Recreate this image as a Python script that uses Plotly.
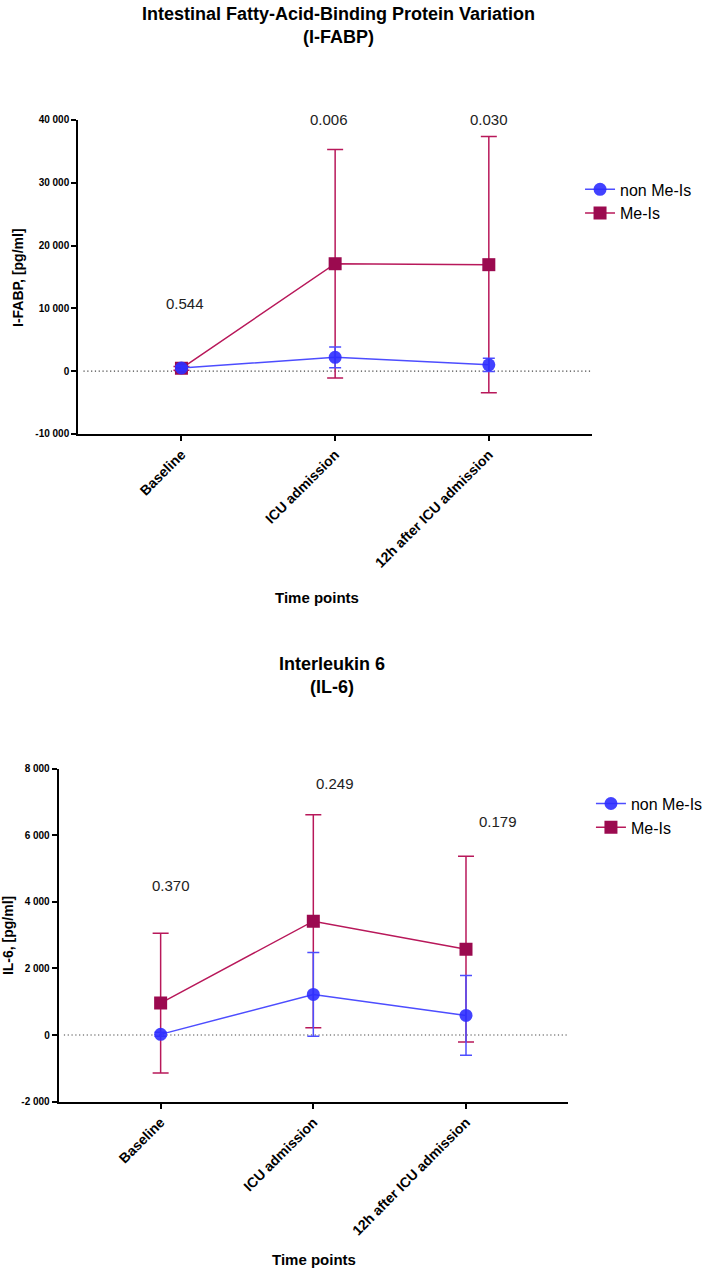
import plotly.graph_objects as go

# ---------------- data ----------------
timepoints = ["Baseline", "ICU admission", "12h after ICU admission"]
groups = ["non Me-Is", "Me-Is"]

ifabp_non_mean = [500, 2200, 1000]
ifabp_non_sd = [300, 1650, 1050]
ifabp_me_mean = [450, 17100, 16950]
ifabp_me_sd = [300, 18200, 20400]

il6_non_mean = [20, 1220, 590]
il6_non_sd = [60, 1260, 1200]
il6_me_mean = [960, 3420, 2580]
il6_me_sd = [2100, 3200, 2790]

ifabp_pvalues = ["0.544", "0.006", "0.030"]
ifabp_p_label_y = [10800, 40000, 40000]
il6_pvalues = ["0.370", "0.249", "0.179"]
il6_p_label_y = [4500, 7560, 6420]

ifabp_ticks = [-10000, 0, 10000, 20000, 30000, 40000]
ifabp_ticktext = ["-10 000", "0", "10 000", "20 000", "30 000", "40 000"]
il6_ticks = [-2000, 0, 2000, 4000, 6000, 8000]
il6_ticktext = ["-2 000", "0", "2 000", "4 000", "6 000", "8 000"]

# ---------------- style ----------------
FONT = "Liberation Sans, Arial, Helvetica, sans-serif"
BLUE_M = "rgba(45,45,255,0.9)"
BLUE_L = "#4d4dff"
RED_M = "#9b0a4f"
RED_L = "#b8185a"
W, H = 708, 1275

fig = go.Figure()


def add_panel(xa, ya, legend, me_mean, me_sd, non_mean, non_sd):
    fig.add_trace(go.Scatter(
        x=timepoints, y=me_mean, name=groups[1], mode="lines+markers",
        xaxis=xa, yaxis=ya, legend=legend,
        marker=dict(symbol="square", size=13, color=RED_M),
        line=dict(color=RED_L, width=1.5),
        error_y=dict(type="data", array=me_sd, visible=True,
                     color=RED_L, thickness=1.5, width=8),
    ))
    fig.add_trace(go.Scatter(
        x=timepoints, y=non_mean, name=groups[0], mode="lines+markers",
        xaxis=xa, yaxis=ya, legend=legend,
        marker=dict(symbol="circle", size=13, color=BLUE_M),
        line=dict(color=BLUE_L, width=1.5),
        error_y=dict(type="data", array=non_sd, visible=True,
                     color=BLUE_L, thickness=1.5, width=6),
    ))


add_panel("x", "y", "legend", ifabp_me_mean, ifabp_me_sd, ifabp_non_mean, ifabp_non_sd)
add_panel("x2", "y2", "legend2", il6_me_mean, il6_me_sd, il6_non_mean, il6_non_sd)


def px_x(p):
    return p / W


def px_y(p):
    return 1 - p / H


axis_common = dict(showline=True, linecolor="black", linewidth=2.2,
                   ticks="outside", ticklen=5, tickwidth=2, tickcolor="black",
                   showgrid=False, zeroline=False)

fig.update_layout(
    width=W, height=H,
    margin=dict(l=0, r=0, t=0, b=0),
    paper_bgcolor="white", plot_bgcolor="white",
    font=dict(family=FONT, color="black"),
    xaxis=dict(domain=[px_x(79), px_x(597)], anchor="y", type="category",
               range=[-0.671, 2.671], tickangle=-45,
               tickfont=dict(size=14, family=FONT, weight="bold"), **axis_common),
    yaxis=dict(domain=[px_y(432), px_y(115)], anchor="x", range=[-10000, 40000],
               tickvals=ifabp_ticks, ticktext=ifabp_ticktext,
               tickfont=dict(size=10, family=FONT, weight="bold"), **axis_common),
    xaxis2=dict(domain=[px_x(59.3), px_x(573)], anchor="y2", type="category",
                range=[-0.667, 2.669], tickangle=-45,
                tickfont=dict(size=14, family=FONT, weight="bold"), **axis_common),
    yaxis2=dict(domain=[px_y(1106), px_y(770)], anchor="x2", range=[-2000, 8000],
                tickvals=il6_ticks, ticktext=il6_ticktext,
                tickfont=dict(size=10, family=FONT, weight="bold"), **axis_common),
    legend=dict(x=px_x(585), y=px_y(168), xanchor="left", yanchor="top",
                traceorder="reversed", font=dict(size=16, family=FONT),
                bgcolor="rgba(0,0,0,0)", itemwidth=30),
    legend2=dict(x=px_x(596), y=px_y(788), xanchor="left", yanchor="top",
                 traceorder="reversed", font=dict(size=16, family=FONT),
                 bgcolor="rgba(0,0,0,0)", itemwidth=30),
    showlegend=True,
)

# dotted zero lines
for xr, yr in (("x domain", "y"), ("x2 domain", "y2")):
    fig.add_shape(type="line", xref=xr, yref=yr, x0=0.01, x1=1, y0=0, y1=0,
                  line=dict(color="#444444", width=1.2, dash="1.2px,2.6px"), layer="below")

annotations = []
# p-values
for cat, txt, yv, xs in zip(timepoints, ifabp_pvalues, ifabp_p_label_y, [4, -6, 0]):
    annotations.append(dict(x=cat, y=yv, xref="x", yref="y", text=txt, showarrow=False,
                            xshift=xs, yanchor="middle",
                            font=dict(size=15, family=FONT, color="#222222")))
for cat, txt, yv, xs in zip(timepoints, il6_pvalues, il6_p_label_y, [10, 22, 32]):
    annotations.append(dict(x=cat, y=yv, xref="x2", yref="y2", text=txt, showarrow=False,
                            xshift=xs, yanchor="middle",
                            font=dict(size=15, family=FONT, color="#222222")))

# titles
bold = dict(family=FONT, weight="bold", color="black")
annotations += [
    dict(x=px_x(341.7), y=px_y(19.5), xref="paper", yref="paper", showarrow=False,
         text="Intestinal Fatty-Acid-Binding Protein Variation<br>(I-FABP)",
         xanchor="center", yanchor="middle", font=dict(size=18, **bold)),
    dict(x=px_x(335), y=px_y(676), xref="paper", yref="paper", showarrow=False,
         text="Interleukin 6<br>(IL-6)",
         xanchor="center", yanchor="middle", font=dict(size=18, **bold)),
    dict(x=px_x(18.7), y=px_y(274), xref="paper", yref="paper", showarrow=False,
         text="I-FABP, [pg/ml]", textangle=-90,
         xanchor="center", yanchor="middle", font=dict(size=14, **bold)),
    dict(x=px_x(8), y=px_y(938), xref="paper", yref="paper", showarrow=False,
         text="IL-6, [pg/ml]", textangle=-90,
         xanchor="center", yanchor="middle", font=dict(size=14, **bold)),
    dict(x=px_x(320), y=px_y(597), xref="paper", yref="paper", showarrow=False,
         text="Time points", xanchor="center", yanchor="middle",
         font=dict(size=15, **bold)),
    dict(x=px_x(317), y=px_y(1265), xref="paper", yref="paper", showarrow=False,
         text="Time points", xanchor="center", yanchor="middle",
         font=dict(size=15, **bold)),
]
fig.update_layout(annotations=annotations)

fig.write_html("out.html")
